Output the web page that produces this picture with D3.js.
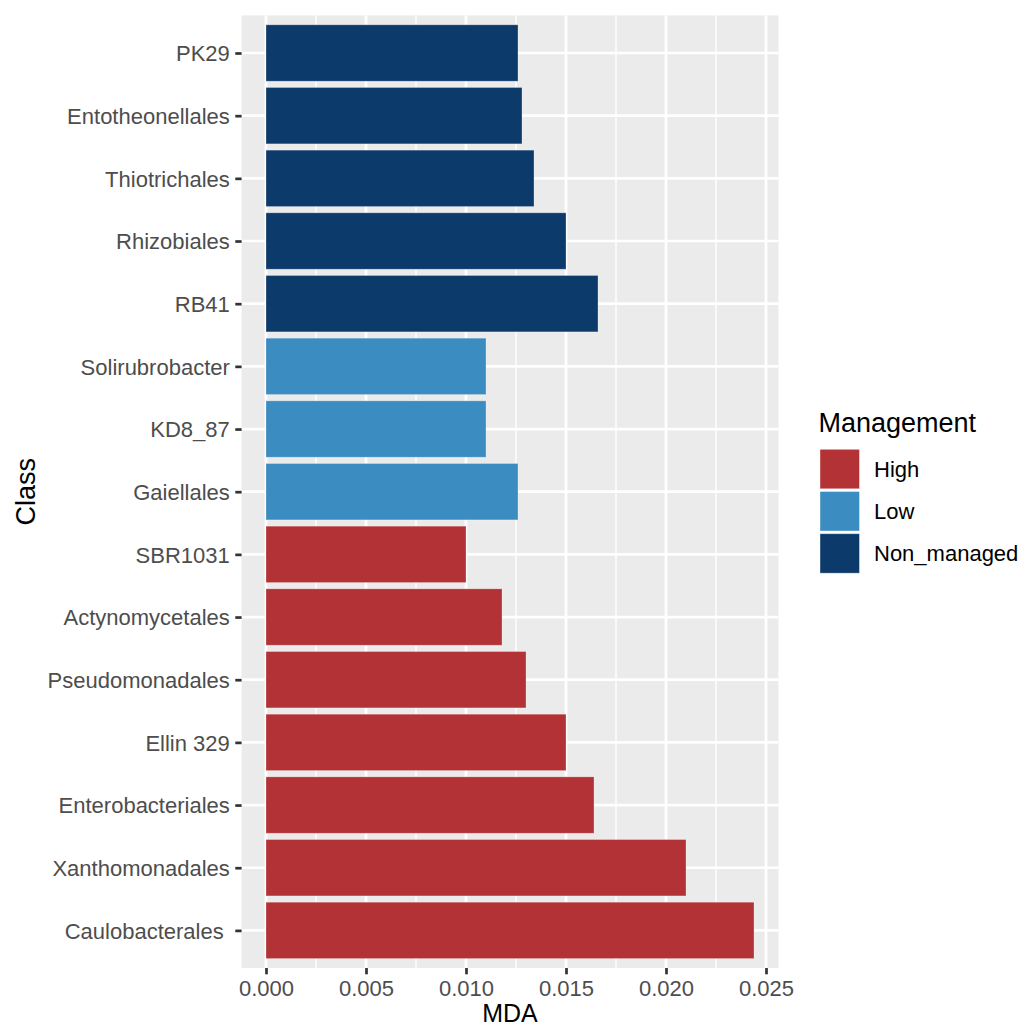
<!DOCTYPE html>
<html>
<head>
<meta charset="utf-8">
<script src="https://cdn.jsdelivr.net/npm/d3@7"></script>
<style>
  body { margin: 0; background: #ffffff; }
  svg { display: block; font-family: "Liberation Sans", Arial, Helvetica, sans-serif; }
</style>
</head>
<body>
<svg id="chart" width="1021" height="1028"></svg>
<script>
// Data (top to bottom as displayed)
const classes = ["PK29", "Entotheonellales", "Thiotrichales", "Rhizobiales", "RB41",
  "Solirubrobacter", "KD8_87", "Gaiellales",
  "SBR1031", "Actynomycetales", "Pseudomonadales", "Ellin 329", "Enterobacteriales",
  "Xanthomonadales", "Caulobacterales "];
const mda = [0.0126, 0.0128, 0.0134, 0.0150, 0.0166,
  0.0110, 0.0110, 0.0126,
  0.0100, 0.0118, 0.0130, 0.0150, 0.0164,
  0.0210, 0.0244];
const management = ["Non_managed", "Non_managed", "Non_managed", "Non_managed", "Non_managed",
  "Low", "Low", "Low",
  "High", "High", "High", "High", "High", "High", "High"];
const groups = ["High", "Low", "Non_managed"];
const groupColors = ["#B33235", "#3A8CC1", "#0C3A6B"];
const xTicks = [0, 0.005, 0.01, 0.015, 0.02, 0.025];
const xMinor = [0.0025, 0.0075, 0.0125, 0.0175, 0.0225];

const data = classes.map((c, i) => ({ cls: c, v: mda[i], g: management[i] }));

const svg = d3.select("#chart");
const panel = { left: 241.6, right: 778.4, top: 15.4, bottom: 968 };

const maxV = d3.max(mda);
const x = d3.scaleLinear()
  .domain([-0.05 * maxV, maxV * 1.05])
  .range([panel.left, panel.right]);

const stepN = classes.length - 1 + 1.2;
const y = d3.scalePoint()
  .domain(classes)
  .range([panel.top, panel.bottom])
  .padding(0.6);
const step = (panel.bottom - panel.top) / stepN;
const barH = step * 0.9;

const color = d3.scaleOrdinal().domain(groups).range(groupColors);

// Panel background
svg.append("rect")
  .attr("x", panel.left).attr("y", panel.top)
  .attr("width", panel.right - panel.left).attr("height", panel.bottom - panel.top)
  .attr("fill", "#EBEBEB");

// Minor grid
svg.append("g").selectAll("line").data(xMinor).join("line")
  .attr("x1", d => x(d)).attr("x2", d => x(d))
  .attr("y1", panel.top).attr("y2", panel.bottom)
  .attr("stroke", "#ffffff").attr("stroke-width", 1.35);

// Major grid
svg.append("g").selectAll("line").data(xTicks).join("line")
  .attr("x1", d => x(d)).attr("x2", d => x(d))
  .attr("y1", panel.top).attr("y2", panel.bottom)
  .attr("stroke", "#ffffff").attr("stroke-width", 2.7);
svg.append("g").selectAll("line").data(classes).join("line")
  .attr("x1", panel.left).attr("x2", panel.right)
  .attr("y1", d => y(d)).attr("y2", d => y(d))
  .attr("stroke", "#ffffff").attr("stroke-width", 2.7);

// Bars
svg.append("g").selectAll("rect").data(data).join("rect")
  .attr("x", x(0))
  .attr("y", d => y(d.cls) - barH / 2)
  .attr("width", d => x(d.v) - x(0))
  .attr("height", barH)
  .attr("fill", d => color(d.g))
  .attr("stroke", "rgba(255,255,255,0.35)")
  .attr("stroke-width", 0.8);

// Axes
const tickLen = 6.3;
const xAxis = d3.axisBottom(x).tickValues(xTicks).tickFormat(d3.format(".3f"))
  .tickSize(tickLen).tickPadding(5.5);
const gx = svg.append("g").attr("transform", `translate(0,${panel.bottom})`).call(xAxis);
gx.select(".domain").remove();
gx.selectAll(".tick line").attr("stroke", "#333333").attr("stroke-width", 2.7);
gx.selectAll(".tick text").attr("fill", "#4D4D4D").attr("font-size", "22px")
  .attr("font-family", "Liberation Sans, Arial, sans-serif").attr("dy", "0.73em");

const yAxis = d3.axisLeft(y).tickSize(tickLen).tickPadding(5.5);
const gy = svg.append("g").attr("transform", `translate(${panel.left},0)`).call(yAxis);
gy.select(".domain").remove();
gy.selectAll(".tick line").attr("stroke", "#333333").attr("stroke-width", 2.7);
gy.selectAll(".tick text").attr("fill", "#4D4D4D").attr("font-size", "22px")
  .attr("font-family", "Liberation Sans, Arial, sans-serif")
  .style("white-space", "pre").attr("dy", "0.36em");

// Axis titles
svg.append("text")
  .attr("x", (panel.left + panel.right) / 2).attr("y", 1022)
  .attr("text-anchor", "middle").attr("font-size", "25px").attr("fill", "#000")
  .text("MDA");
svg.append("text")
  .attr("transform", `translate(35,${(panel.top + panel.bottom) / 2}) rotate(-90)`)
  .attr("text-anchor", "middle").attr("font-size", "27px").attr("fill", "#000")
  .text("Class");

// Legend
const lg = svg.append("g");
lg.append("text").attr("x", 818.5).attr("y", 431.5).attr("font-size", "27px").attr("fill", "#000")
  .text("Management");
const keyTop = 449.3, keyStep = 42.2, keySize = 39.5;
groups.forEach((g, i) => {
  lg.append("rect")
    .attr("x", 820).attr("y", keyTop + i * keyStep)
    .attr("width", keySize).attr("height", keySize)
    .attr("fill", color(g))
    .attr("stroke", "rgba(255,255,255,0.5)").attr("stroke-width", 0.8);
  lg.append("text")
    .attr("x", 874).attr("y", keyTop + i * keyStep + keySize / 2)
    .attr("dy", "0.36em").attr("font-size", "22px").attr("fill", "#000")
    .text(g);
});
</script>
</body>
</html>
